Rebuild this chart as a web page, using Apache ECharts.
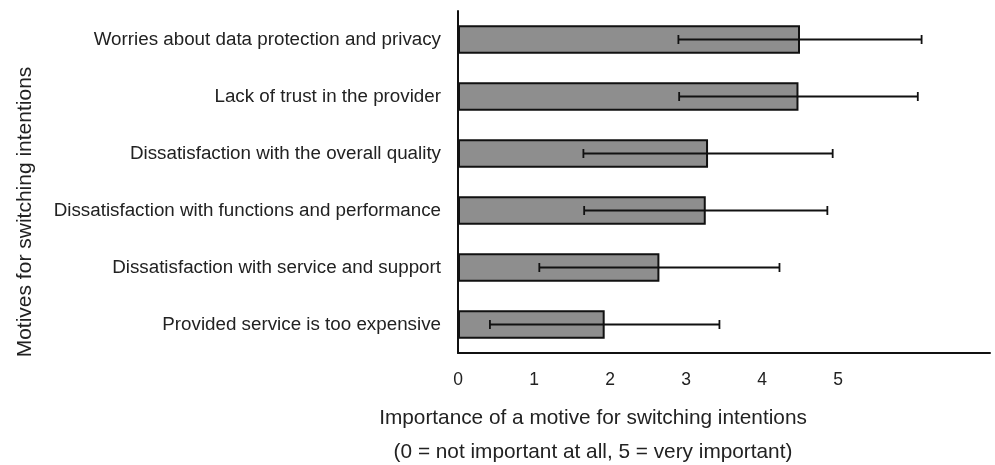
<!DOCTYPE html>
<html>
<head>
<meta charset="utf-8">
<style>
  html, body { margin: 0; padding: 0; background: #fff; }
  #chart { width: 995px; height: 465px; }
</style>
</head>
<body>
<div id="chart"></div>
<script src="https://cdn.jsdelivr.net/npm/echarts@6/dist/echarts.min.js"></script>
<script>
    // data (means and standard deviations)
    var categories = [
        'Worries about data protection and privacy',
        'Lack of trust in the provider',
        'Dissatisfaction with the overall quality',
        'Dissatisfaction with functions and performance',
        'Dissatisfaction with service and support',
        'Provided service is too expensive'
    ];
    var means = [4.50, 4.48, 3.29, 3.26, 2.65, 1.93];
    var sds = [1.60, 1.57, 1.64, 1.60, 1.58, 1.51];
    var tickLabels = ['0', '1', '2', '3', '4', '5'];

    var errData = categories.map(function (c, i) {
        return [i, means[i] - sds[i], means[i] + sds[i]];
    });

    var font = 'Liberation Sans, Arial, sans-serif';
    var myChart = echarts.init(document.getElementById('chart'));

    var option = {
        animation: false,
        grid: { left: 458, right: 5, top: 11, bottom: 112 },
        xAxis: {
            type: 'value',
            min: 0,
            max: 7,
            interval: 1,
            axisLine: { show: true, lineStyle: { color: '#111', width: 2 } },
            axisTick: { show: false },
            splitLine: { show: false },
            axisLabel: {
                margin: 18,
                fontFamily: font,
                fontSize: 17.5,
                color: '#222',
                formatter: function (v) {
                    return tickLabels.indexOf(String(v)) >= 0 ? String(v) : '';
                }
            }
        },
        yAxis: {
            type: 'category',
            inverse: true,
            data: categories,
            axisLine: { show: true, lineStyle: { color: '#111', width: 2 } },
            axisTick: { show: false },
            axisLabel: {
                margin: 17,
                fontFamily: font,
                fontSize: 18.8,
                color: '#222'
            }
        },
        graphic: [
            {
                type: 'text',
                x: 25, y: 212,
                rotation: Math.PI / 2,
                style: {
                    text: 'Motives for switching intentions',
                    font: '21px ' + font,
                    fill: '#222',
                    textAlign: 'center',
                    textVerticalAlign: 'middle'
                }
            },
            {
                type: 'text',
                x: 593, y: 401,
                style: {
                    text: 'Importance of a motive for switching intentions\n(0 = not important at all, 5 = very important)',
                    font: '20.8px ' + font,
                    lineHeight: 34,
                    fill: '#222',
                    textAlign: 'center',
                    textVerticalAlign: 'top'
                }
            }
        ],
        series: [
            {
                type: 'bar',
                data: means,
                barCategoryGap: '50%',
                itemStyle: { color: '#8e8e8e', borderColor: '#111', borderWidth: 2 }
            },
            {
                type: 'custom',
                data: errData,
                z: 5,
                renderItem: function (params, api) {
                    var idx = api.value(0);
                    var lo = api.coord([api.value(1), idx]);
                    var hi = api.coord([api.value(2), idx]);
                    var h = 4.5;
                    var st = { stroke: '#111', lineWidth: 1.8 };
                    return {
                        type: 'group',
                        children: [
                            { type: 'line', shape: { x1: lo[0], y1: lo[1], x2: hi[0], y2: hi[1] }, style: st },
                            { type: 'line', shape: { x1: lo[0], y1: lo[1] - h, x2: lo[0], y2: lo[1] + h }, style: st },
                            { type: 'line', shape: { x1: hi[0], y1: hi[1] - h, x2: hi[0], y2: hi[1] + h }, style: st }
                        ]
                    };
                }
            }
        ]
    };

    myChart.setOption(option);
</script>
</body>
</html>
